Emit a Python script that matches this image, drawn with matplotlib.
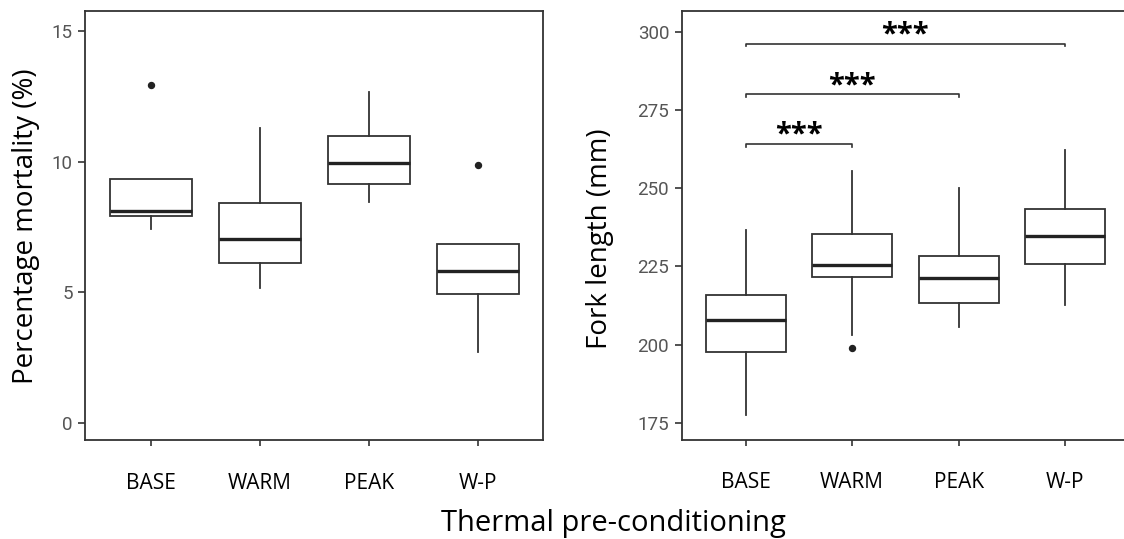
import matplotlib
matplotlib.use("Agg")
import matplotlib.pyplot as plt

# ---------------- data ----------------
categories = ["BASE", "WARM", "PEAK", "W-P"]

mort_q1 = [7.91, 6.13, 9.14, 4.91]
mort_med = [8.11, 7.05, 9.95, 5.80]
mort_q3 = [9.32, 8.42, 10.97, 6.86]
mort_lo = [7.41, 5.16, 8.46, 2.71]
mort_hi = [9.32, 11.29, 12.67, 6.86]
mort_out = [[12.94], [], [], [9.86]]

fork_q1 = [197.6, 221.5, 213.3, 225.8]
fork_med = [208.0, 225.6, 221.3, 234.8]
fork_q3 = [216.0, 235.4, 228.3, 243.2]
fork_lo = [177.4, 203.1, 205.7, 212.8]
fork_hi = [236.7, 255.6, 250.2, 262.1]
fork_out = [[], [199.0], [], []]

sig_pairs = [(0, 1), (0, 2), (0, 3)]
sig_heights = [264.1, 280.0, 296.2]
sig_labels = ["***", "***", "***"]

mort_ticks = [0, 5, 10, 15]
fork_ticks = [175, 200, 225, 250, 275, 300]

# ---------------- figure ----------------
W, H = 1124, 539
fig = plt.figure(figsize=(W / 100, H / 100), dpi=100)

def px_axes(x0, y0, x1, y1):
    return fig.add_axes([x0 / W, 1 - y1 / H, (x1 - x0) / W, (y1 - y0) / H])

ax1 = px_axes(85.3, 11, 543.3, 440)
ax2 = px_axes(681.7, 11, 1129, 439.5)

LINE = "#333333"
TICKC = "#555555"
LBL_FONT = ["Open Sans", "DejaVu Sans"]
TICK_FONT = ["Roboto", "DejaVu Sans"]

def make_stats(q1, med, q3, lo, hi, out):
    return [dict(q1=a, med=b, q3=c, whislo=d, whishi=e, fliers=f)
            for a, b, c, d, e, f in zip(q1, med, q3, lo, hi, out)]

def draw(ax, stats, yticks, ylim):
    pos = list(range(1, len(categories) + 1))
    ax.bxp(stats, positions=pos, widths=0.75, showcaps=False, patch_artist=True,
           boxprops=dict(facecolor="white", edgecolor=LINE, linewidth=1.3),
           whiskerprops=dict(color=LINE, linewidth=1.3),
           medianprops=dict(color="#222222", linewidth=2.4),
           flierprops=dict(marker="o", markerfacecolor="#222222",
                           markeredgecolor="#222222", markersize=4.3))
    ax.set_xlim(0.4, 4.6)
    ax.set_ylim(*ylim)
    ax.set_yticks(yticks)
    ax.set_yticklabels([str(t) for t in yticks], fontfamily=TICK_FONT,
                       fontsize=13.5, color=TICKC)
    ax.set_xticks(pos)
    ax.set_xticklabels(categories, fontfamily=LBL_FONT, fontsize=15, color="black")
    ax.tick_params(axis="y", direction="out", length=5, width=1.2, color=LINE, pad=4)
    ax.tick_params(axis="x", direction="out", length=4, width=1.2, color=LINE, pad=19.5)
    for s in ax.spines.values():
        s.set_color(LINE)
        s.set_linewidth(1.3)

draw(ax1, make_stats(mort_q1, mort_med, mort_q3, mort_lo, mort_hi, mort_out),
     mort_ticks, (-0.67, 15.77))
draw(ax2, make_stats(fork_q1, fork_med, fork_q3, fork_lo, fork_hi, fork_out),
     fork_ticks, (169.7, 306.6))

# significance brackets
for (i, j), h, lab in zip(sig_pairs, sig_heights, sig_labels):
    x0, x1 = i + 1, j + 1
    ax2.plot([x0, x0, x1, x1], [h - 0.9, h, h, h - 0.9], color=LINE, linewidth=1.2)
    ax2.text((x0 + x1) / 2, h + 0.4, lab, ha="center", va="baseline",
             fontfamily=LBL_FONT, fontsize=21, fontweight="bold", color="black")

# axis titles
fig.text(26 / W, 1 - 226 / H, "Percentage mortality (%)", rotation=90,
         ha="center", va="center", fontfamily=LBL_FONT, fontsize=20, color="black")
fig.text(600 / W, 1 - 239 / H, "Fork length (mm)", rotation=90,
         ha="center", va="center", fontfamily=LBL_FONT, fontsize=20, color="black")
fig.text(613 / W, 1 - 531.5 / H, "Thermal pre-conditioning", ha="center",
         va="baseline", fontfamily=LBL_FONT, fontsize=21, color="black")

fig.savefig("out.png", dpi=100)
